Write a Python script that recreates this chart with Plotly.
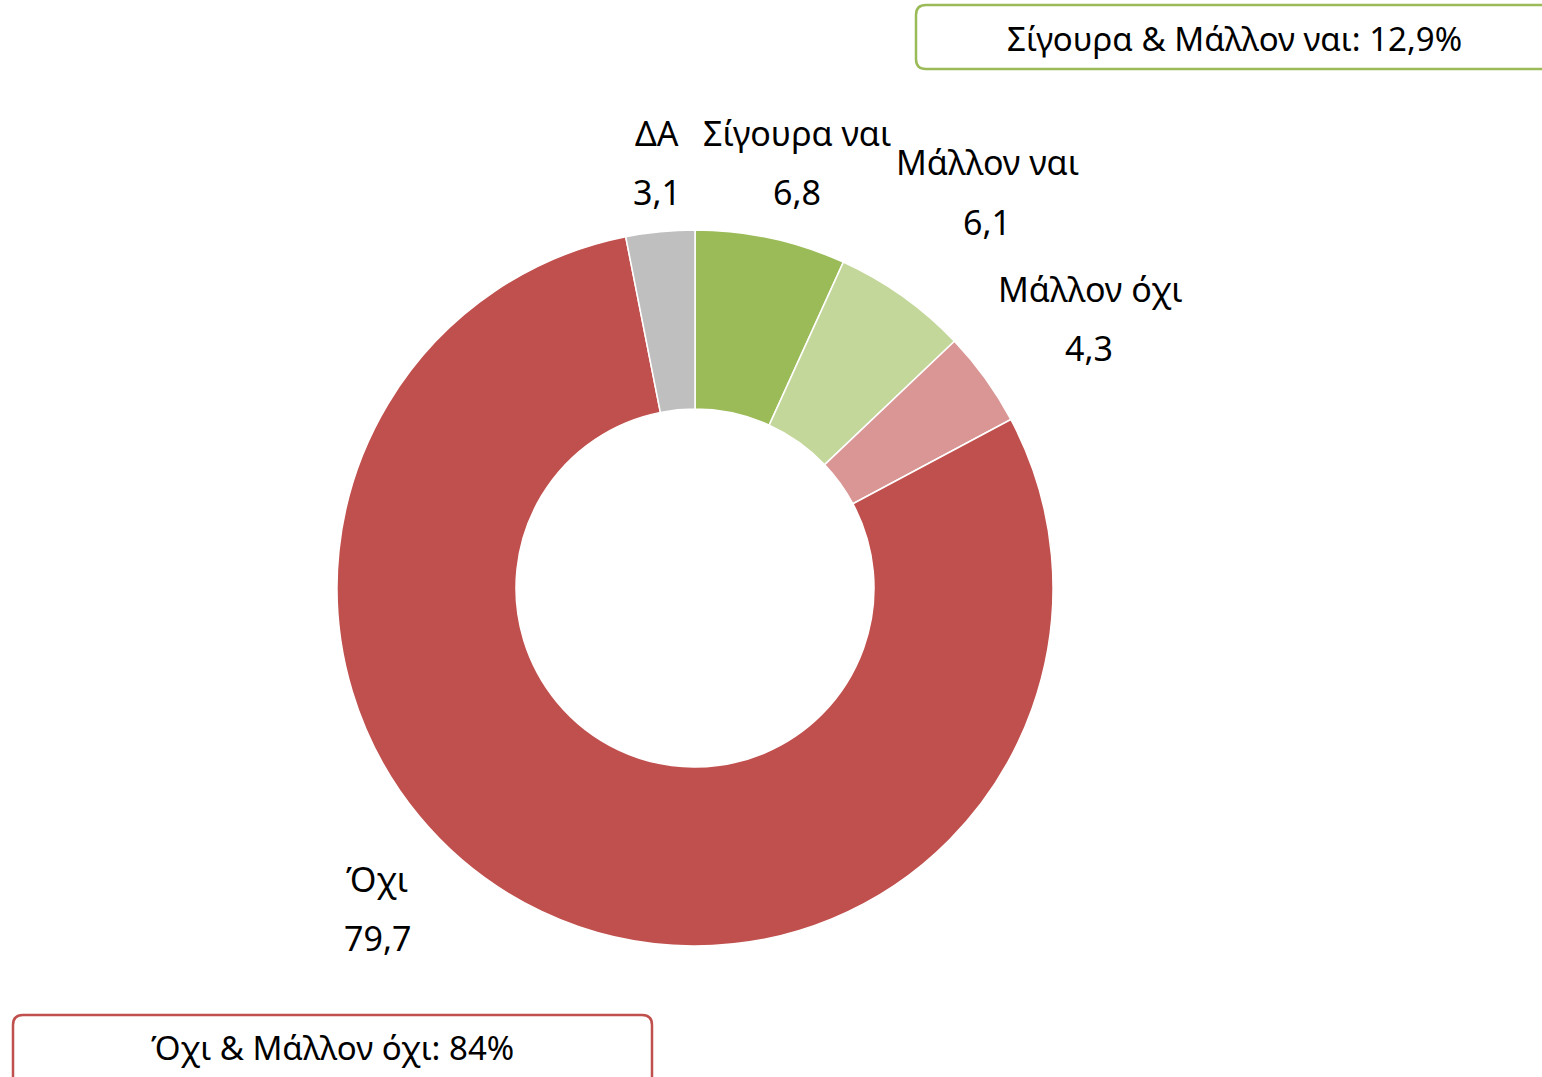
import plotly.graph_objects as go

W, H = 1542, 1077

labels = ["Σίγουρα ναι", "Μάλλον ναι", "Μάλλον όχι", "Όχι", "ΔΑ"]
values = [6.8, 6.1, 4.3, 79.7, 3.1]
value_text = ["6,8", "6,1", "4,3", "79,7", "3,1"]
colors = ["#9BBB59", "#C4D79B", "#D99694", "#C0504D", "#BFBFBF"]

box_texts = ["Σίγουρα & Μάλλον ναι: 12,9%", "Όχι & Μάλλον όχι: 84%"]
box_colors = ["#9BBB59", "#C0504D"]

FONT = "Noto Sans"
FS = 34

cx, cy, R = 695, 588, 358

fig = go.Figure()
fig.add_trace(go.Pie(
    labels=labels, values=values, hole=0.5, sort=False, direction="clockwise",
    rotation=0, marker=dict(colors=colors, line=dict(color="white", width=1.5)),
    textinfo="none", hoverinfo="label+value", showlegend=False,
    domain=dict(x=[(cx - R) / W, (cx + R) / W], y=[(H - cy - R) / H, (H - cy + R) / H]),
))

# label positions (pixel coordinates)
label_pos = {
    "Σίγουρα ναι": (797, 133, 797, 192),
    "Μάλλον ναι": (987, 162, 987, 222),
    "Μάλλον όχι": (1090, 289, 1089, 348),
    "Όχι": (377, 879, 377, 938),
    "ΔΑ": (657, 133, 657, 192),
}
for lab, vt in zip(labels, value_text):
    x1, y1, x2, y2 = label_pos[lab]
    fig.add_annotation(x=x1, y=y1, text=lab, showarrow=False, xref="x", yref="y",
                       font=dict(family=FONT, size=FS, color="black"), xanchor="center", yanchor="middle")
    fig.add_annotation(x=x2, y=y2, text=vt, showarrow=False, xref="x", yref="y",
                       font=dict(family=FONT, size=FS, color="black"), xanchor="center", yanchor="middle")


def rounded_rect(x0, y0, x1, y1, r):
    return (f"M {x0+r},{y0} L {x1-r},{y0} Q {x1},{y0} {x1},{y0+r} "
            f"L {x1},{y1-r} Q {x1},{y1} {x1-r},{y1} L {x0+r},{y1} "
            f"Q {x0},{y1} {x0},{y1-r} L {x0},{y0+r} Q {x0},{y0} {x0+r},{y0} Z")

boxes = [(916, 5, 1560, 69, 1234, 38), (13, 1015, 652, 1095, 332, 1047)]
for (x0, y0, x1, y1, tx, ty), txt, col in zip(boxes, box_texts, box_colors):
    fig.add_shape(type="path", path=rounded_rect(x0, y0, x1, y1, 10), xref="x", yref="y",
                  line=dict(color=col, width=2.5), fillcolor="white", layer="below")
    fig.add_annotation(x=tx, y=ty, text=txt, showarrow=False, xref="x", yref="y",
                       font=dict(family=FONT, size=FS - 1, color="black"), xanchor="center", yanchor="middle")

fig.update_layout(
    width=W, height=H, margin=dict(l=0, r=0, t=0, b=0),
    paper_bgcolor="white", plot_bgcolor="white",
    xaxis=dict(range=[0, W], visible=False, fixedrange=True),
    yaxis=dict(range=[H, 0], visible=False, fixedrange=True),
)

fig.write_html("out.html", config={"displayModeBar": False},
               post_script="document.body.style.margin='0';document.body.style.overflow='hidden';")
